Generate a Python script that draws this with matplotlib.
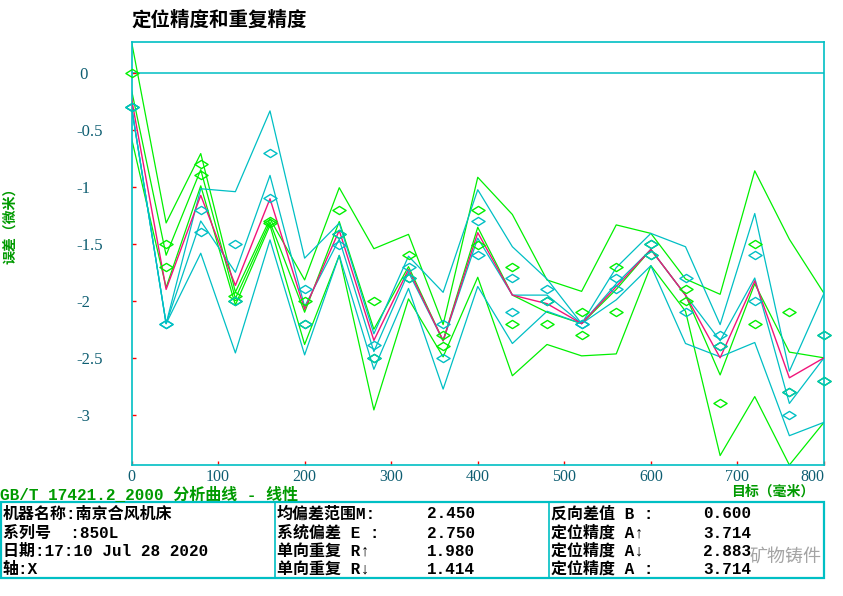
import numpy as np
import matplotlib
matplotlib.use("Agg")
import matplotlib.pyplot as plt
from matplotlib.path import Path
from matplotlib.patches import Rectangle
from matplotlib.lines import Line2D

# ---------------- data ----------------
targets = [0, 40, 80, 120, 160, 200, 240, 280, 320, 360, 400,
           440, 480, 520, 560, 600, 640, 680, 720, 760, 800]
fwd_run1 = [0.00, -1.50, -0.80, -2.00, -1.30, -2.00, -1.20, -2.00, -1.60, -2.40, -1.20,
            -1.70, -2.20, -2.10, -1.70, -1.50, -1.90, -2.40, -1.50, -2.10, -2.30]
fwd_run2 = [-0.30, -1.70, -0.90, -1.96, -1.32, -2.20, -1.41, -2.50, -1.80, -2.30, -1.51,
            -2.20, -2.00, -2.30, -2.10, -1.60, -2.00, -2.90, -2.20, -2.80, -2.70]
bwd_run1 = [-0.30, -2.20, -1.20, -1.50, -0.70, -1.90, -1.41, -2.39, -1.70, -2.20, -1.30,
            -1.80, -1.90, -2.20, -1.80, -1.50, -1.80, -2.30, -1.60, -2.80, -2.30]
bwd_run2 = [-0.30, -2.20, -1.40, -2.00, -1.10, -2.20, -1.51, -2.50, -1.80, -2.50, -1.60,
            -2.10, -2.00, -2.20, -1.90, -1.60, -2.10, -2.40, -2.00, -3.00, -2.70]

xtick_vals = [0, 100, 200, 300, 400, 500, 600, 700, 800]
ytick_vals = [0, -0.5, -1, -1.5, -2, -2.5, -3]
ytick_labels = [" 0", "-0.5", "-1", "-1.5", "-2", "-2.5", "-3"]

title_text = "定位精度和重复精度"
std_text = "GB/T 17421.2_2000 分析曲线 - 线性"
xlabel_text = "目标（毫米）"
ylabel_text = "误差（微米）"

info_col1 = ["机器名称:南京合风机床", "系列号  :850L", "日期:17:10 Jul 28 2020", "轴:X"]
info_col2_labels = ["均偏差范围M:", "系统偏差 E :", "单向重复 R↑", "单向重复 R↓"]
info_col2_values = ["2.450", "2.750", "1.980", "1.414"]
info_col3_labels = ["反向差值 B :", "定位精度 A↑", "定位精度 A↓", "定位精度 A :"]
info_col3_values = ["0.600", "3.714", "2.883", "3.714"]

# ---------------- statistics of the runs ----------------
fwd = np.array([fwd_run1, fwd_run2])
bwd = np.array([bwd_run1, bwd_run2])
mf, sf = fwd.mean(0), fwd.std(0, ddof=1)
mb, sb = bwd.mean(0), bwd.std(0, ddof=1)
mm = (mf + mb) / 2
ytop = max((mf + 2 * sf).max(), (mb + 2 * sb).max())
ybot = min((mf - 2 * sf).min(), (mb - 2 * sb).min())

# ---------------- styling ----------------
GREEN = "#00F000"
CYAN = "#00BFC4"
MAG = "#F0157A"
TXTGREEN = "#009A00"
TICKCOL = "#0E5E72"
CJK = ["Liberation Mono", "Noto Sans CJK SC", "DejaVu Sans"]

W, H = 843, 596
fig = plt.figure(figsize=(W / 100, H / 100), dpi=100)
fig.patch.set_facecolor("white")


def fx(x):
    return x / W


def fy(y):
    return 1 - y / H


ax = fig.add_axes([fx(131.5), fy(465), (824 - 131.5) / W, (465 - 41.5) / H])
ax.set_xlim(0, 800)
ax.set_ylim(ybot, ytop)

ax.axhline(0, color=CYAN, lw=1.1, zorder=1)

lw = 0.9
for arr in (mf + 2 * sf, mf, mf - 2 * sf):
    ax.plot(targets, arr, color=GREEN, lw=lw, zorder=2)
for arr in (mb + 2 * sb, mb, mb - 2 * sb):
    ax.plot(targets, arr, color=CYAN, lw=lw, zorder=3)
ax.plot(targets, mm, color=MAG, lw=1.0, zorder=4)

diamond = Path([(0, 0.62), (1, 0), (0, -0.62), (-1, 0), (0, 0.62)],
               [Path.MOVETO, Path.LINETO, Path.LINETO, Path.LINETO, Path.CLOSEPOLY])
for run in (fwd_run1, fwd_run2):
    ax.plot(targets, run, ls="none", marker=diamond, ms=9.5, mfc="none",
            mec=GREEN, mew=1.0, zorder=5, clip_on=False)
for run in (bwd_run1, bwd_run2):
    ax.plot(targets, run, ls="none", marker=diamond, ms=9.5, mfc="none",
            mec=CYAN, mew=1.0, zorder=6, clip_on=False)

for sp in ax.spines.values():
    sp.set_color(CYAN)
    sp.set_linewidth(1.2)

ax.set_xticks(xtick_vals)
ax.set_xticklabels([str(v) for v in xtick_vals])
ax.set_yticks(ytick_vals)
ax.set_yticklabels(ytick_labels)
ax.tick_params(axis="both", direction="in", length=3, width=1, color="red",
               labelcolor=TICKCOL)
ax.tick_params(axis="x", pad=3)
ax.tick_params(axis="y", pad=(131.5 - 76) * 0.72)
for lab in ax.get_yticklabels():
    lab.set_horizontalalignment("left")
    lab.set_fontfamily("Liberation Serif")
    lab.set_fontsize(12)
for lab in ax.get_xticklabels():
    lab.set_fontfamily("Liberation Serif")
    lab.set_fontsize(11.5)
ax.get_xticklabels()[-1].set_horizontalalignment("right")

# ---------------- texts ----------------
fig.text(fx(131), fy(20), title_text, family=["Noto Sans CJK SC"], weight="bold",
         fontsize=14, color="black", ha="left", va="center")
fig.text(fx(10), fy(222), ylabel_text, family=["Noto Sans CJK SC"], weight="bold",
         fontsize=10, color=TXTGREEN, rotation=90, ha="center", va="center")
fig.text(fx(773), fy(492), xlabel_text, family=["Noto Sans CJK SC"], weight="bold",
         fontsize=10, color=TXTGREEN, ha="center", va="center")
fig.text(fx(0), fy(495), std_text, family=CJK, weight="bold",
         fontsize=11.5, color=TXTGREEN, ha="left", va="center")

# table frame
fig.add_artist(Rectangle((fx(1), fy(578)), (824 - 1) / W, (578 - 502) / H,
                         transform=fig.transFigure, fill=False, ec=CYAN, lw=1.6))
for xd in (275, 549):
    fig.add_artist(Line2D([fx(xd), fx(xd)], [fy(502), fy(578)],
                          transform=fig.transFigure, color=CYAN, lw=1.2))

row_y = [514, 533, 551, 569]
for i, y in enumerate(row_y):
    fig.text(fx(3), fy(y), info_col1[i], family=CJK, weight="bold", fontsize=11.5,
             color="black", ha="left", va="center")
    fig.text(fx(277), fy(y), info_col2_labels[i], family=CJK, weight="bold",
             fontsize=11.5, color="black", ha="left", va="center")
    fig.text(fx(427), fy(y), info_col2_values[i], family=CJK, weight="bold",
             fontsize=11.5, color="black", ha="left", va="center")
    fig.text(fx(551), fy(y), info_col3_labels[i], family=CJK, weight="bold",
             fontsize=11.5, color="black", ha="left", va="center")
    fig.text(fx(703), fy(y), info_col3_values[i], family=CJK, weight="bold",
             fontsize=11.5, color="black", ha="left", va="center")

# watermark
fig.text(fx(785), fy(557), "矿物铸件", family=["Noto Sans CJK SC"], fontsize=13,
         color="#9A9A9A", ha="center", va="center", alpha=0.9)

fig.savefig("out.png", dpi=100, facecolor="white")
